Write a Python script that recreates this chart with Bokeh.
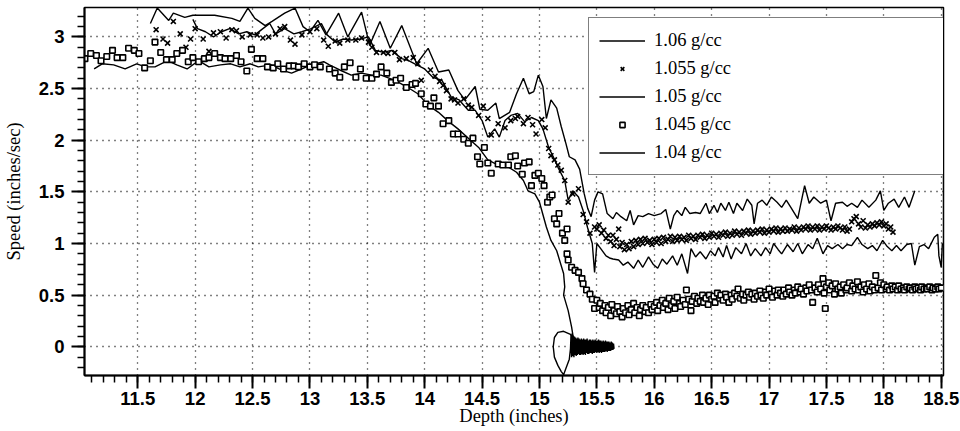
import numpy as np
from bokeh.plotting import figure
from bokeh.models import (FixedTicker, CustomJSTickFormatter, Legend, LegendItem, Range1d)
from bokeh.embed import file_html
from bokeh.resources import INLINE

# ---------------- data ----------------
# 1.06 g/cc (line)
d106_x = [11.61, 11.67, 11.77, 11.81, 11.91, 11.98, 12.06, 12.17, 12.32, 12.39, 12.46, 12.52, 12.61, 12.67,
          12.78, 12.87, 12.94, 13.00, 13.07, 13.14, 13.25, 13.33, 13.45, 13.52, 13.61, 13.70, 13.80, 13.93,
          14.03, 14.12, 14.21, 14.29, 14.35, 14.44, 14.48, 14.55, 14.62, 14.65, 14.74, 14.80, 14.86, 14.91,
          14.95, 14.99, 15.03, 15.06, 15.10, 15.15, 15.19, 15.23, 15.26, 15.31, 15.35, 15.39, 15.42, 15.45,
          15.48, 15.51, 15.55, 15.59, 15.64, 15.67, 15.71, 15.76, 15.79, 15.82, 15.86, 15.90, 15.95, 16.00,
          16.06, 16.10, 16.14, 16.17, 16.20, 16.24, 16.27, 16.31, 16.36, 16.40, 16.45, 16.48, 16.52, 16.55,
          16.58, 16.62, 16.65, 16.69, 16.72, 16.77, 16.81, 16.85, 16.87, 16.90, 16.94, 16.98, 17.02, 17.07,
          17.11, 17.15, 17.19, 17.25, 17.31, 17.35, 17.39, 17.45, 17.50, 17.54, 17.58, 17.64, 17.68, 17.72,
          17.77, 17.81, 17.87, 17.93, 17.97, 18.00, 18.04, 18.09, 18.13, 18.18, 18.22, 18.27]
d106_y = [3.13, 3.28, 3.16, 3.23, 3.19, 3.21, 3.21, 3.21, 3.18, 3.15, 3.28, 3.18, 3.11, 3.15,
          3.23, 3.28, 3.10, 3.05, 3.16, 3.02, 3.23, 3.00, 3.24, 2.92, 3.15, 2.89, 3.11, 2.74,
          2.89, 2.66, 2.68, 2.48, 2.39, 2.52, 2.30, 2.29, 2.36, 2.21, 2.27, 2.45, 2.60, 2.45,
          2.47, 2.63, 2.52, 2.21, 2.39, 2.31, 2.13, 1.97, 1.84, 1.81, 1.72, 1.48, 1.34, 1.26,
          1.42, 1.50, 1.48, 1.29, 1.24, 1.30, 1.26, 1.22, 1.32, 1.18, 1.27, 1.26, 1.29, 1.27,
          1.29, 1.33, 1.14, 1.27, 1.32, 1.27, 1.35, 1.29, 1.30, 1.29, 1.39, 1.29, 1.37, 1.30,
          1.39, 1.32, 1.40, 1.29, 1.39, 1.32, 1.43, 1.37, 1.19, 1.39, 1.42, 1.37, 1.45, 1.40,
          1.35, 1.42, 1.35, 1.24, 1.56, 1.39, 1.45, 1.39, 1.42, 1.22, 1.39, 1.40, 1.36, 1.39,
          1.35, 1.42, 1.35, 1.42, 1.51, 1.32, 1.39, 1.43, 1.35, 1.45, 1.35, 1.51]

# 1.055 g/cc (x markers)
d1055_x = [11.66, 11.72, 11.76, 11.81, 11.87, 11.92, 11.96, 12.00, 12.07, 12.12, 12.16, 12.22, 12.27, 12.32,
           12.36, 12.41, 12.48, 12.54, 12.59, 12.64, 12.70, 12.74, 12.78, 12.83, 12.87, 12.93, 13.00, 13.06,
           13.12, 13.16, 13.22, 13.26, 13.33, 13.40, 13.45, 13.51, 13.54, 13.58, 13.64, 13.68, 13.74, 13.78,
           13.84, 13.90, 13.94, 13.97, 14.05, 14.09, 14.13, 14.16, 14.19, 14.23, 14.26, 14.29, 14.34, 14.38,
           14.41, 14.47, 14.51, 14.55, 14.58, 14.64, 14.70, 14.75, 14.79, 14.81, 14.86, 14.90, 14.94, 14.97,
           15.02, 15.05, 15.08, 15.10, 15.13, 15.16, 15.19, 15.22, 15.25, 15.29, 15.34, 15.38, 15.41, 15.44,
           15.48, 15.50, 15.52, 15.54, 15.56, 15.58, 15.60, 15.62, 15.64, 15.65, 15.67, 15.69, 15.70, 15.72,
           15.74, 15.76, 15.78, 15.80, 15.82, 15.84, 15.86, 15.88, 15.90, 15.92, 15.94, 15.96, 15.98, 16.00,
           16.02, 16.04, 16.06, 16.08, 16.10, 16.12, 16.14, 16.16, 16.18, 16.20, 16.22, 16.24, 16.26, 16.28,
           16.30, 16.32, 16.34, 16.36, 16.38, 16.40, 16.42, 16.44, 16.46, 16.48, 16.50, 16.52, 16.54, 16.56,
           16.58, 16.60, 16.62, 16.64, 16.66, 16.68, 16.70, 16.72, 16.74, 16.76, 16.78, 16.80, 16.82, 16.84,
           16.86, 16.88, 16.90, 16.92, 16.94, 16.96, 16.98, 17.00, 17.02, 17.04, 17.06, 17.08, 17.10, 17.12,
           17.14, 17.16, 17.18, 17.20, 17.22, 17.24, 17.26, 17.28, 17.30, 17.32, 17.34, 17.36, 17.38, 17.40,
           17.42, 17.44, 17.46, 17.48, 17.50, 17.52, 17.54, 17.56, 17.58, 17.60, 17.62, 17.64, 17.66, 17.68,
           17.70, 17.72, 17.74, 17.76, 17.78, 17.80, 17.82, 17.84, 17.86, 17.88, 17.90, 17.92, 17.94, 17.96,
           17.98, 18.00, 18.02, 18.04, 18.06, 18.08]
d1055_y = [3.07, 2.98, 2.94, 3.15, 3.03, 2.90, 2.98, 3.08, 2.98, 2.86, 3.04, 3.05, 2.99, 3.07,
           3.06, 3.00, 3.02, 3.02, 2.99, 3.00, 3.03, 3.08, 3.10, 2.97, 2.93, 3.02, 3.05, 3.08,
           2.97, 2.91, 2.96, 2.94, 2.97, 2.97, 2.99, 2.95, 2.90, 2.85, 2.85, 2.84, 2.85, 2.78,
           2.79, 2.80, 2.74, 2.58, 2.68, 2.62, 2.57, 2.53, 2.48, 2.40, 2.39, 2.36, 2.40, 2.34,
           2.32, 2.24, 2.33, 2.21, 2.05, 2.16, 2.12, 2.19, 2.21, 2.23, 2.16, 2.22, 2.15, 2.06,
           2.20, 2.12, 1.92, 1.85, 1.81, 1.76, 1.71, 1.61, 1.40, 1.48, 1.53, 1.28, 1.21, 1.10,
           1.16, 1.14, 1.18, 1.10, 1.13, 1.05, 1.08, 1.02, 1.08, 0.98, 1.04, 1.14, 0.97, 1.01,
           0.94, 0.99, 0.95, 1.02, 0.97, 1.03, 0.99, 1.04, 1.00, 1.05, 1.01, 1.03, 0.99, 1.04,
           1.01, 1.05, 1.00, 1.06, 1.02, 1.04, 1.07, 1.02, 1.06, 1.03, 1.07, 1.04, 1.06, 1.03,
           1.08, 1.05, 1.07, 1.04, 1.08, 1.06, 1.09, 1.05, 1.08, 1.06, 1.10, 1.07, 1.09, 1.06,
           1.10, 1.08, 1.11, 1.07, 1.10, 1.08, 1.12, 1.09, 1.11, 1.08, 1.12, 1.10, 1.13, 1.09,
           1.12, 1.10, 1.13, 1.11, 1.14, 1.10, 1.13, 1.11, 1.14, 1.12, 1.15, 1.11, 1.14, 1.12,
           1.15, 1.12, 1.14, 1.13, 1.16, 1.12, 1.15, 1.13, 1.16, 1.14, 1.17, 1.13, 1.16, 1.14,
           1.17, 1.13, 1.16, 1.14, 1.17, 1.15, 1.13, 1.16, 1.14, 1.17, 1.15, 1.13, 1.16, 1.12,
           1.14, 1.21, 1.24, 1.26, 1.19, 1.16, 1.22, 1.15, 1.18, 1.16, 1.19, 1.17, 1.20, 1.18,
           1.21, 1.17, 1.19, 1.14, 1.16, 1.11]

# 1.05 g/cc (line)
d105_x = [11.98, 12.02, 12.09, 12.16, 12.23, 12.30, 12.38, 12.45, 12.52, 12.59, 12.65, 12.70, 12.78, 12.86,
          12.93, 13.01, 13.10, 13.15, 13.22, 13.29, 13.36, 13.44, 13.51, 13.57, 13.64, 13.71, 13.80, 13.86,
          13.93, 14.00, 14.07, 14.15, 14.23, 14.30, 14.38, 14.44, 14.50, 14.55, 14.61, 14.65, 14.70, 14.75,
          14.81, 14.87, 14.93, 14.99, 15.03, 15.08, 15.12, 15.16, 15.22, 15.25, 15.29, 15.34, 15.38, 15.42,
          15.46, 15.48, 15.50, 15.54, 15.58, 15.61, 15.64, 15.69, 15.73, 15.77, 15.82, 15.86, 15.90, 15.95,
          15.99, 16.03, 16.07, 16.11, 16.16, 16.20, 16.24, 16.29, 16.32, 16.36, 16.40, 16.45, 16.49, 16.53,
          16.56, 16.60, 16.63, 16.67, 16.71, 16.76, 16.80, 16.84, 16.88, 16.93, 16.97, 17.01, 17.04, 17.08,
          17.11, 17.16, 17.21, 17.25, 17.29, 17.34, 17.38, 17.42, 17.47, 17.51, 17.55, 17.60, 17.64, 17.68,
          17.72, 17.77, 17.81, 17.86, 17.90, 17.94, 17.99, 18.03, 18.07, 18.11, 18.15, 18.20, 18.24, 18.27,
          18.31, 18.35, 18.39, 18.44, 18.47, 18.48, 18.50, 18.51]
d105_y = [3.17, 3.08, 3.05, 3.00, 3.05, 3.08, 3.03, 3.05, 3.02, 3.08, 3.13, 3.03, 3.08, 3.03,
          3.05, 3.08, 3.13, 3.02, 2.95, 2.98, 2.97, 2.98, 3.00, 2.87, 2.85, 2.87, 2.79, 2.77,
          2.73, 2.69, 2.61, 2.58, 2.42, 2.39, 2.29, 2.29, 2.19, 2.03, 2.11, 2.03, 2.19, 2.24,
          2.26, 2.18, 2.22, 2.19, 2.11, 1.93, 1.84, 1.74, 1.61, 1.42, 1.51, 1.45, 1.32, 1.15,
          1.00, 0.72, 1.00, 0.94, 0.88, 0.86, 0.85, 0.84, 0.79, 0.82, 0.76, 0.84, 0.77, 0.87,
          0.80, 0.76, 0.85, 0.80, 0.88, 0.79, 0.90, 0.71, 0.95, 0.87, 0.92, 0.85, 0.93, 0.88,
          0.96, 0.87, 0.98, 0.85, 0.96, 0.90, 1.00, 0.88, 0.95, 0.88, 0.96, 0.90, 1.00, 0.94,
          0.90, 0.99, 0.92, 1.00, 0.90, 0.99, 0.95, 1.05, 0.90, 0.98, 0.95, 0.99, 0.95, 0.99,
          0.98, 1.06, 0.99, 0.95, 0.98, 0.93, 1.03, 0.97, 0.93, 0.98, 0.93, 0.99, 1.00, 0.79,
          0.97, 0.99, 0.95, 1.06, 1.09, 0.88, 0.77, 1.00]

# 1.045 g/cc (square markers)
d1045_x = [11.04, 11.09, 11.14, 11.18, 11.23, 11.28, 11.32, 11.37, 11.42, 11.47, 11.51, 11.56, 11.61, 11.65,
           11.70, 11.75, 11.80, 11.84, 11.89, 11.94, 11.98, 12.03, 12.08, 12.12, 12.17, 12.22, 12.26, 12.31,
           12.36, 12.40, 12.45, 12.49, 12.54, 12.59, 12.63, 12.68, 12.72, 12.77, 12.82, 12.86, 12.90, 12.95,
           13.00, 13.04, 13.09, 13.17, 13.22, 13.26, 13.30, 13.35, 13.40, 13.44, 13.49, 13.54, 13.58, 13.62,
           13.67, 13.71, 13.75, 13.79, 13.84, 13.89, 13.92, 13.97, 14.01, 14.05, 14.08, 14.12, 14.16, 14.21,
           14.25, 14.29, 14.34, 14.38, 14.42, 14.46, 14.48, 14.52, 14.55, 14.58, 14.64, 14.68, 14.73, 14.75,
           14.79, 14.81, 14.85, 14.87, 14.91, 14.93, 14.96, 14.99, 15.02, 15.04, 15.07, 15.09, 15.11, 15.13,
           15.15, 15.17, 15.20, 15.22, 15.24, 15.24, 15.25, 15.28, 15.31, 15.34, 15.37, 15.38, 15.41, 15.44,
           15.46, 15.48, 15.50, 15.52, 15.53, 15.55, 15.57, 15.58, 15.60, 15.62, 15.63, 15.65, 15.67, 15.68,
           15.70, 15.72, 15.73, 15.75, 15.77, 15.78, 15.80, 15.82, 15.83, 15.85, 15.87, 15.88, 15.90, 15.92,
           15.93, 15.95, 15.97, 15.98, 16.00, 16.02, 16.03, 16.05, 16.07, 16.08, 16.10, 16.12, 16.13, 16.15,
           16.17, 16.18, 16.20, 16.22, 16.23, 16.25, 16.27, 16.28, 16.30, 16.32, 16.33, 16.35, 16.37, 16.38,
           16.40, 16.42, 16.43, 16.45, 16.47, 16.48, 16.50, 16.52, 16.53, 16.55, 16.57, 16.58, 16.60, 16.62,
           16.63, 16.65, 16.67, 16.68, 16.70, 16.72, 16.73, 16.75, 16.77, 16.78, 16.80, 16.82, 16.83, 16.85,
           16.87, 16.88, 16.90, 16.92, 16.93, 16.95, 16.97, 16.98, 17.00, 17.02, 17.03, 17.05, 17.07, 17.08,
           17.10, 17.12, 17.13, 17.15, 17.17, 17.18, 17.20, 17.22, 17.23, 17.25, 17.27, 17.28, 17.30, 17.32,
           17.33, 17.35, 17.37, 17.38, 17.40, 17.42, 17.43, 17.45, 17.47, 17.48, 17.49, 17.50, 17.52, 17.53,
           17.55, 17.57, 17.58, 17.60, 17.62, 17.63, 17.65, 17.67, 17.68, 17.70, 17.72, 17.73, 17.75, 17.77,
           17.78, 17.80, 17.82, 17.83, 17.85, 17.87, 17.88, 17.90, 17.92, 17.93, 17.95, 17.97, 17.98, 18.00,
           18.02, 18.03, 18.05, 18.07, 18.08, 18.10, 18.12, 18.13, 18.15, 18.17, 18.18, 18.20, 18.22, 18.23,
           18.25, 18.27, 18.28, 18.30, 18.32, 18.33, 18.35, 18.37, 18.38, 18.40, 18.42, 18.43, 18.45, 18.47,
           18.48, 18.50]
d1045_y = [2.79, 2.84, 2.82, 2.77, 2.81, 2.87, 2.80, 2.80, 2.89, 2.87, 2.84, 2.70, 2.77, 2.95,
           2.85, 2.78, 2.78, 2.84, 2.87, 2.76, 2.80, 2.76, 2.79, 2.80, 2.84, 2.80, 2.79, 2.79,
           2.82, 2.76, 2.67, 2.88, 2.79, 2.79, 2.71, 2.70, 2.74, 2.69, 2.72, 2.72, 2.71, 2.74,
           2.71, 2.73, 2.71, 2.69, 2.65, 2.61, 2.71, 2.75, 2.61, 2.69, 2.60, 2.60, 2.64, 2.71,
           2.65, 2.56, 2.58, 2.60, 2.51, 2.54, 2.55, 2.45, 2.35, 2.33, 2.41, 2.33, 2.16, 2.19,
           2.06, 2.06, 2.01, 1.97, 2.02, 1.84, 1.77, 1.93, 1.78, 1.68, 1.77, 1.76, 1.76, 1.84,
           1.85, 1.75, 1.67, 1.78, 1.79, 1.56, 1.66, 1.68, 1.63, 1.56, 1.40, 1.45, 1.47, 1.24,
           1.19, 1.29, 1.10, 1.03, 1.14, 0.90, 0.84, 0.77, 0.74, 0.72, 0.66, 0.61, 0.55, 0.51,
           0.46, 0.37, 0.45, 0.38, 0.42, 0.35, 0.40, 0.33, 0.38, 0.30, 0.41, 0.35, 0.32, 0.39,
           0.34, 0.29, 0.37, 0.33, 0.40, 0.31, 0.36, 0.42, 0.33, 0.38, 0.30, 0.36, 0.40, 0.34,
           0.38, 0.33, 0.41, 0.36, 0.39, 0.43, 0.35, 0.40, 0.45, 0.38, 0.42, 0.36, 0.47, 0.40,
           0.44, 0.37, 0.48, 0.42, 0.39, 0.45, 0.41, 0.55, 0.46, 0.35, 0.44, 0.49, 0.42, 0.47,
           0.44, 0.50, 0.43, 0.47, 0.41, 0.50, 0.46, 0.49, 0.43, 0.52, 0.47, 0.50, 0.45, 0.51,
           0.48, 0.43, 0.50, 0.46, 0.52, 0.49, 0.56, 0.47, 0.51, 0.45, 0.50, 0.53, 0.48, 0.51,
           0.46, 0.52, 0.49, 0.54, 0.50, 0.47, 0.53, 0.50, 0.56, 0.51, 0.48, 0.54, 0.50, 0.55,
           0.52, 0.49, 0.55, 0.51, 0.57, 0.53, 0.50, 0.55, 0.52, 0.58, 0.53, 0.56, 0.51, 0.57,
           0.54, 0.60, 0.55, 0.43, 0.57, 0.53, 0.60, 0.56, 0.66, 0.52, 0.37, 0.58, 0.62, 0.55,
           0.59, 0.51, 0.61, 0.56, 0.58, 0.52, 0.60, 0.55, 0.57, 0.62, 0.54, 0.59, 0.56, 0.63,
           0.55, 0.58, 0.53, 0.60, 0.56, 0.61, 0.54, 0.58, 0.55, 0.69, 0.57, 0.62, 0.55, 0.60,
           0.56, 0.58, 0.55, 0.59, 0.56, 0.58, 0.55, 0.59, 0.56, 0.57, 0.55, 0.58, 0.56, 0.57,
           0.55, 0.58, 0.56, 0.57, 0.55, 0.58, 0.56, 0.57, 0.56, 0.58, 0.55, 0.57, 0.56, 0.58,
           0.56, 0.57]

# 1.04 g/cc (line)
d104_x = [11.12, 11.19, 11.29, 11.39, 11.49, 11.57, 11.65, 11.76, 11.84, 11.93, 12.03, 12.12, 12.22, 12.31,
          12.39, 12.48, 12.55, 12.66, 12.75, 12.84, 12.93, 13.01, 13.12, 13.17, 13.26, 13.36, 13.45, 13.54,
          13.62, 13.74, 13.84, 13.94, 14.03, 14.12, 14.21, 14.29, 14.38, 14.47, 14.55, 14.64, 14.73, 14.80,
          14.86, 14.90, 14.96, 15.00, 15.06, 15.10, 15.15, 15.21, 15.22, 15.21, 15.25, 15.28, 15.30, 15.27,
          15.21, 15.16, 15.13, 15.12, 15.13, 15.16, 15.19, 15.21, 15.23, 15.26, 15.27,
          15.275, 15.28, 15.285, 15.29, 15.295, 15.30, 15.305, 15.31, 15.315, 15.32, 15.325, 15.33,
          15.335, 15.34, 15.345, 15.35, 15.355, 15.36, 15.365, 15.37, 15.375, 15.38, 15.385, 15.39,
          15.395, 15.40, 15.405, 15.41, 15.415, 15.42, 15.425, 15.43, 15.435, 15.44, 15.445, 15.45,
          15.455, 15.46, 15.465, 15.47, 15.475, 15.48, 15.485, 15.49, 15.495, 15.50, 15.505, 15.51,
          15.515, 15.52, 15.525, 15.53, 15.535, 15.54, 15.545, 15.55, 15.555, 15.56, 15.565, 15.57,
          15.575, 15.58, 15.585, 15.59, 15.595, 15.60, 15.605, 15.61, 15.615, 15.62, 15.625, 15.63,
          15.635, 15.64, 15.645, 15.65]
d104_y = [2.69, 2.74, 2.73, 2.69, 2.74, 2.71, 2.71, 2.77, 2.73, 2.69, 2.77, 2.71, 2.73, 2.74,
          2.71, 2.74, 2.71, 2.73, 2.68, 2.65, 2.69, 2.73, 2.76, 2.73, 2.68, 2.63, 2.65, 2.63,
          2.63, 2.58, 2.52, 2.45, 2.34, 2.27, 2.18, 2.11, 2.02, 1.93, 1.81, 1.76, 1.74, 1.69,
          1.61, 1.51, 1.48, 1.40, 1.16, 1.03, 0.93, 0.71, 0.58, 0.50, 0.35, 0.19, 0.05, 0.12,
          0.15, 0.14, 0.09, 0.00, -0.10, -0.18, -0.24, -0.27, -0.21, -0.12, -0.02,
          0.12, -0.10, 0.13, -0.09, 0.11, -0.10, 0.10, -0.08, 0.09, -0.09, 0.08, -0.08,
          0.09, -0.07, 0.08, -0.08, 0.07, -0.08, 0.08, -0.07, 0.07, -0.08, 0.08, -0.07,
          0.07, -0.08, 0.07, -0.06, 0.08, -0.07, 0.06, -0.07, 0.07, -0.06, 0.07, -0.06,
          0.06, -0.07, 0.07, -0.06, 0.06, -0.06, 0.07, -0.05, 0.06, -0.06, 0.06, -0.05,
          0.07, -0.06, 0.06, -0.05, 0.06, -0.06, 0.05, -0.05, 0.06, -0.05, 0.05, -0.05,
          0.06, -0.04, 0.05, -0.05, 0.05, -0.04, 0.05, -0.04, 0.04, -0.04, 0.05, -0.03,
          0.04, -0.03, 0.03, -0.02]

x_ticks = [11.5, 12, 12.5, 13, 13.5, 14, 14.5, 15, 15.5, 16, 16.5, 17, 17.5, 18, 18.5]
y_ticks = [0, 0.5, 1, 1.5, 2, 2.5, 3]
legend_labels = ["1.06 g/cc", "1.055 g/cc", "1.05 g/cc", "1.045 g/cc", "1.04 g/cc"]

# ---------------- figure ----------------
p = figure(width=960, height=431, output_backend="svg", toolbar_location=None, title=None,
           x_range=Range1d(11.036, 18.52), y_range=Range1d(-0.278, 3.285),
           min_border_left=83, min_border_right=17, min_border_top=7, min_border_bottom=56)
p.background_fill_color = "white"
p.border_fill_color = "white"
p.outline_line_color = "black"
p.outline_line_width = 1.5

x_minor = [round(v, 2) for v in np.arange(11.1, 18.55, 0.1)]
y_minor = [round(v, 2) for v in np.arange(-0.2, 3.25, 0.1)]
p.xaxis.ticker = FixedTicker(ticks=x_ticks, minor_ticks=x_minor)
p.yaxis.ticker = FixedTicker(ticks=y_ticks, minor_ticks=y_minor)
fmt = CustomJSTickFormatter(code="return String(tick);")
p.xaxis.formatter = fmt
p.yaxis.formatter = fmt

for ax in (p.xaxis, p.yaxis):
    ax.axis_line_color = "black"
    ax.axis_line_width = 2
    ax.major_tick_line_color = "black"
    ax.major_tick_line_width = 2
    ax.minor_tick_line_color = "black"
    ax.minor_tick_line_width = 1.5
    ax.major_tick_in = 0
    ax.major_tick_out = 13
    ax.minor_tick_in = 0
    ax.minor_tick_out = 7
    ax.major_label_text_font = "Liberation Sans"
    ax.major_label_text_font_size = "18.5px"
    ax.major_label_text_font_style = "bold"
    ax.major_label_text_color = "black"
    ax.axis_label_text_font = "Liberation Serif"
    ax.axis_label_text_font_size = "18.5px"
    ax.axis_label_text_font_style = "normal"
    ax.axis_label_text_color = "black"

p.xaxis.axis_label = "Depth (inches)"
p.yaxis.axis_label = "Speed (inches/sec)"
p.xaxis.major_label_standoff = 3
p.xaxis.axis_label_standoff = -2
p.yaxis.major_label_standoff = 7
p.yaxis.axis_label_standoff = 12

for g in (p.xgrid, p.ygrid):
    g.grid_line_color = "black"
    g.grid_line_width = 1.3
    g.grid_line_dash = "1 5"
    g.grid_line_alpha = 1.0

r106 = p.line(d106_x, d106_y, line_color="black", line_width=1.4)
r105 = p.line(d105_x, d105_y, line_color="black", line_width=1.4)
r104 = p.line(d104_x, d104_y, line_color="black", line_width=1.4)
r1055 = p.scatter(d1055_x, d1055_y, marker="x", size=7, line_color="black", line_width=1.6)
r1045 = p.scatter(d1045_x, d1045_y, marker="square", size=5.5, fill_color="white",
                  line_color="black", line_width=1.6)

legend = Legend(items=[LegendItem(label=legend_labels[0], renderers=[r106]),
                       LegendItem(label=legend_labels[1], renderers=[r1055]),
                       LegendItem(label=legend_labels[2], renderers=[r105]),
                       LegendItem(label=legend_labels[3], renderers=[r1045]),
                       LegendItem(label=legend_labels[4], renderers=[r104])],
                location=(504, 200))
legend.glyph_width = 46
legend.glyph_height = 13
legend.label_height = 24
legend.label_width = 280
legend.label_standoff = 9
legend.padding = 10
legend.spacing = 4
legend.margin = 0
legend.border_line_color = "black"
legend.border_line_width = 1.5
legend.background_fill_color = "white"
legend.background_fill_alpha = 1
legend.label_text_font = "Liberation Serif"
legend.label_text_font_size = "18.5px"
legend.label_text_color = "black"
p.add_layout(legend)

open("out.html", "w").write(file_html(p, INLINE))
